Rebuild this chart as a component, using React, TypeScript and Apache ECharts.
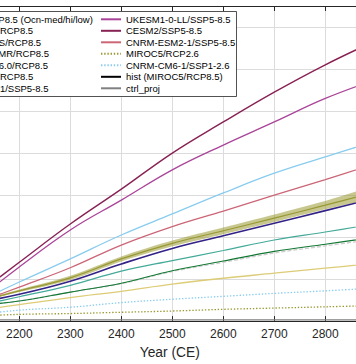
import React, { useEffect, useRef } from "react";
import * as echarts from "echarts";

// Projection years (CE)
const years = [2100, 2200, 2300, 2400, 2500, 2600, 2700, 2800, 2900];
const histYears = [1950, 1985, 2015];

// Series values
const miroc5Med = [0.4, 0.72, 1.03, 1.48, 1.85, 2.15, 2.45, 2.76, 3.08];
const miroc5Hi = [0.41, 0.75, 1.08, 1.54, 1.92, 2.23, 2.54, 2.86, 3.19];
const miroc5Low = [0.39, 0.69, 0.98, 1.42, 1.78, 2.07, 2.36, 2.66, 2.97];
const noresm = [0.4, 0.64, 0.95, 1.36, 1.73, 2.03, 2.33, 2.63, 2.93];
const hadgem = [0.32, 0.58, 0.85, 1.19, 1.44, 1.68, 1.93, 2.12, 2.32];
const ipsl = [0.35, 0.48, 0.69, 0.9, 1.2, 1.43, 1.66, 1.83, 2.0];
const csiro = [0.23, 0.39, 0.56, 0.71, 0.88, 1.02, 1.14, 1.26, 1.38];
const access = [0.35, 0.48, 0.69, 0.89, 1.18, 1.4, 1.62, 1.79, 1.95];
const cnrmcm6_585 = [0.35, 0.93, 1.48, 2.05, 2.55, 3.05, 3.52, 3.91, 4.29];
const ukesm = [0.34, 1.29, 2.17, 2.88, 3.6, 4.19, 4.74, 5.3, 5.75];
const cesm2 = [0.48, 1.4, 2.31, 3.14, 4.0, 4.74, 5.45, 6.1, 6.68];
const cnrmesm2 = [0.36, 0.81, 1.27, 1.81, 2.25, 2.62, 3.0, 3.37, 3.75];
const miroc5_26 = [0.11, 0.16, 0.18, 0.21, 0.24, 0.28, 0.31, 0.34, 0.37];
const cnrmcm6_126 = [0.13, 0.26, 0.33, 0.44, 0.52, 0.59, 0.66, 0.72, 0.79];
const hist = [0.0, 0.01, 0.03];
const ctrlProj = [0.03, 0.03, 0.03, 0.03, 0.03, 0.03, 0.03, 0.03, 0.03];

const leftNames = [
  "MIROC5/RCP8.5 (Ocn-med/hi/low)",
  "NorESM1-M/RCP8.5",
  "HadGEM2-ES/RCP8.5",
  "IPSL-CM5A-MR/RCP8.5",
  "CSIRO-Mk3.6.0/RCP8.5",
  "ACCESS1.3/RCP8.5",
  "CNRM-CM6-1/SSP5-8.5",
];
const rightNames = [
  "UKESM1-0-LL/SSP5-8.5",
  "CESM2/SSP5-8.5",
  "CNRM-ESM2-1/SSP5-8.5",
  "MIROC5/RCP2.6",
  "CNRM-CM6-1/SSP1-2.6",
  "hist (MIROC5/RCP8.5)",
  "ctrl_proj",
];
const xTicks = { min: 1900, max: 3090, interval: 100 };

const FONT = "'Liberation Sans', Arial, Helvetica, sans-serif";
const OFF = 200; // chart is shifted left (cropped view)
const W = 720;
const H = 364;
const SMOOTH = 0.4;

export default function App() {
  const ref = useRef<HTMLDivElement>(null);

  useEffect(() => {
    if (!ref.current) return;
    const chart = echarts.init(ref.current, null, { renderer: "svg" });
    const pairs = (xs: number[], ys: number[]) => xs.map((x, i) => [x, ys[i]]);
    const line = (
      name: string,
      ys: number[],
      color: string,
      width: number,
      type: any = "solid",
      xs: number[] = years
    ) => ({
      type: "line",
      name,
      data: pairs(xs, ys),
      symbol: "none",
      showSymbol: false,
      smooth: SMOOTH,
      silent: true,
      lineStyle: { color, width, type },
      itemStyle: { color },
      emphasis: { disabled: true },
    });

    const legendCommon = {
      orient: "vertical",
      top: 14.3,
      itemWidth: 20,
      itemHeight: 10,
      itemGap: 1.5,
      selectedMode: false,
      padding: 0,
      itemStyle: { opacity: 0 },
      textStyle: { fontSize: 9.5, color: "#000", fontFamily: FONT },
    };

    chart.setOption({
      animation: false,
      backgroundColor: "#fff",
      grid: { left: 66.3, right: 46.8, top: 6, bottom: 42.5, containLabel: false },
      xAxis: [
        {
          type: "value",
          ...xTicks,
          name: "Year (CE)",
          nameLocation: "middle",
          nameGap: 22,
          nameTextStyle: { fontSize: 13.8, color: "#262626", fontFamily: FONT },
          axisLine: { show: true, lineStyle: { color: "#262626", width: 1 } },
          axisTick: { show: true, inside: true, length: 5, lineStyle: { color: "#262626" } },
          axisLabel: {
            fontSize: 12,
            color: "#262626",
            fontFamily: FONT,
            margin: 7,
            formatter: (v: number) => String(v),
          },
          splitLine: { show: true, lineStyle: { color: "#dcdcdc", width: 1 } },
        },
        {
          type: "value",
          position: "top",
          ...xTicks,
          axisLine: { show: true, lineStyle: { color: "#262626", width: 1 } },
          axisTick: { show: true, inside: true, length: 5, lineStyle: { color: "#262626" } },
          axisLabel: { show: false },
          splitLine: { show: false },
        },
      ],
      yAxis: {
        type: "value",
        min: 0,
        max: 7.5,
        interval: 1,
        axisLine: { show: true, lineStyle: { color: "#262626" } },
        axisTick: { show: true, inside: true, length: 5 },
        axisLabel: { show: false },
        splitLine: { show: true, lineStyle: { color: "#dcdcdc", width: 1 } },
      },
      legend: [
        { ...legendCommon, left: 119, data: leftNames },
        { ...legendCommon, left: 300, data: rightNames },
      ],
      graphic: [
        {
          type: "rect",
          z: 3,
          silent: true,
          shape: { x: 110.5, y: 11.5, width: 326, height: 85 },
          style: { fill: "#fff", stroke: "#262626", lineWidth: 0.8 },
        },
      ],
      series: [
        {
          type: "custom",
          name: "miroc5_band",
          silent: true,
          z: 1,
          data: years.map((y, i) => [y, miroc5Low[i], miroc5Hi[i]]),
          encode: { x: 0, y: [1, 2] },
          renderItem: (params: any, api: any) => {
            if (params.dataIndex !== 0) return null;
            const top = years.map((y, i) => api.coord([y, miroc5Hi[i]]));
            const bot = years.map((y, i) => api.coord([y, miroc5Low[i]])).reverse();
            return {
              type: "polygon",
              shape: { points: top.concat(bot), smooth: 0.3 },
              style: { fill: "rgba(153,153,51,0.55)", stroke: "none" },
            };
          },
        },
        line(leftNames[0], miroc5Med, "#999933", 1.2),
        line(leftNames[1], noresm, "#332288", 1.6),
        line(leftNames[2], hadgem, "#44AA99", 1.2),
        line(leftNames[5], access, "#CCCCCC", 1.3, [4, 2]),
        line(leftNames[3], ipsl, "#117733", 1.1),
        line(leftNames[4], csiro, "#DDCC77", 1.3),
        line(leftNames[6], cnrmcm6_585, "#88CCEE", 1.3),
        line(rightNames[0], ukesm, "#AA4499", 1.3),
        line(rightNames[1], cesm2, "#882255", 1.4),
        line(rightNames[2], cnrmesm2, "#CC6677", 1.3),
        line(rightNames[3], miroc5_26, "#999933", 1.3, [1.4, 1.8]),
        line(rightNames[4], cnrmcm6_126, "#88CCEE", 1.3, [1.4, 1.8]),
        line(rightNames[5], hist, "#000000", 2, "solid", histYears),
        line(rightNames[6], ctrlProj, "#808080", 1.2),
      ],
    });
    return () => chart.dispose();
  }, []);

  return (
    <div
      style={{
        position: "fixed",
        left: 0,
        top: 0,
        width: 356,
        height: 364,
        overflow: "hidden",
        background: "#fff",
      }}
    >
      <div
        ref={ref}
        style={{ position: "absolute", left: -OFF, top: 0, width: W, height: H }}
      />
    </div>
  );
}
